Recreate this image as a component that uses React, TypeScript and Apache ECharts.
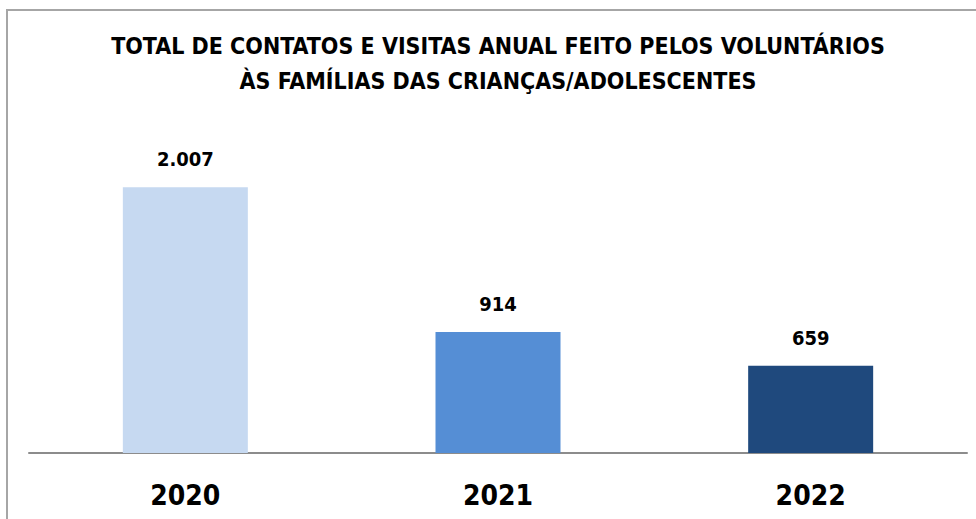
import React, { useEffect, useRef } from "react";
import * as echarts from "echarts";

const categories = ["2020", "2021", "2022"];
const values = [2007, 914, 659];
const barColors = ["#c6d9f1", "#558ed5", "#1f497d"];
const titleLines = [
  "TOTAL DE CONTATOS E VISITAS ANUAL FEITO PELOS VOLUNTÁRIOS",
  "ÀS FAMÍLIAS DAS CRIANÇAS/ADOLESCENTES",
];

const FONT = "'DejaVu Sans Condensed', 'Liberation Sans Narrow', Arial, sans-serif";

const fmtDots = (v: number) => String(v).replace(/\B(?=(\d{3})+(?!\d))/g, ".");

export default function App() {
  const ref = useRef<HTMLDivElement>(null);
  useEffect(() => {
    document.body.style.margin = "0";
    if (!ref.current) return;
    const chart = echarts.init(ref.current, undefined, { renderer: "svg" });
    chart.setOption({
      animation: false,
      backgroundColor: "#ffffff",
      title: {
        text: titleLines.join("\n"),
        left: 498,
        textAlign: "center",
        top: 28,
        padding: 0,
        textStyle: {
          fontFamily: FONT,
          fontWeight: "bold",
          fontSize: 23,
          lineHeight: 35,
          color: "#000000",
        },
      },
      graphic: [
        {
          type: "rect",
          shape: { x: 7, y: 10, width: 1100, height: 700 },
          style: { fill: "none", stroke: "#a6a6a6", lineWidth: 2 },
          silent: true,
        },
      ],
      grid: { left: 29, right: 9, top: 122, bottom: 66 },
      xAxis: {
        type: "category",
        data: categories,
        axisLine: { show: true, lineStyle: { color: "#8c8c8c", width: 2 } },
        axisTick: { show: false },
        axisLabel: {
          margin: 28,
          fontFamily: FONT,
          fontWeight: "bold",
          fontSize: 28,
          lineHeight: 28,
          color: "#000000",
        },
      },
      yAxis: {
        type: "value",
        min: 0,
        max: 2500,
        show: false,
        splitLine: { show: false },
      },
      series: [
        {
          type: "bar",
          barWidth: 125,
          data: values.map((v, i) => ({ value: v, itemStyle: { color: barColors[i] } })),
          label: {
            show: true,
            position: "top",
            distance: 18,
            formatter: (p: any) => fmtDots(p.value),
            fontFamily: FONT,
            fontWeight: "bold",
            fontSize: 20,
            lineHeight: 20,
            color: "#000000",
          },
        },
      ],
    });
    return () => chart.dispose();
  }, []);
  return <div ref={ref} style={{ width: 976, height: 519 }} />;
}
